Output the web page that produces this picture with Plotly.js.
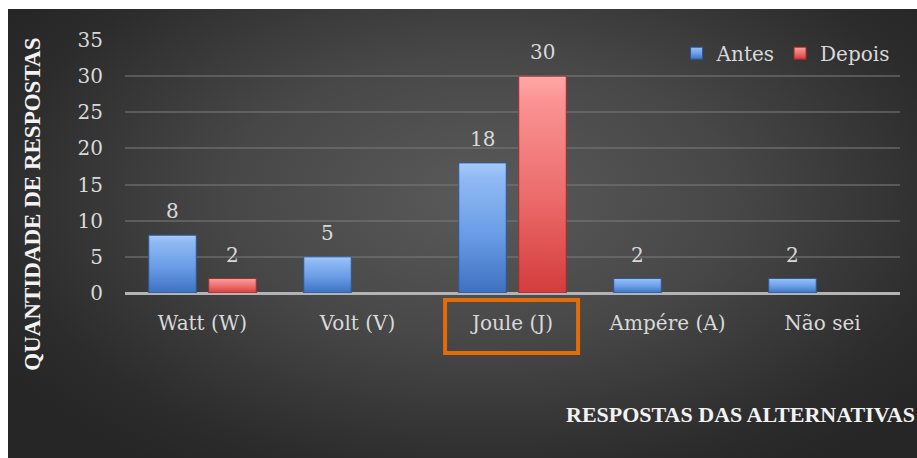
<!DOCTYPE html>
<html>
<head>
<meta charset="utf-8">
<script src="https://cdn.plot.ly/plotly-3.0.1.min.js"></script>
<style>
  html, body { margin:0; padding:0; background:#ffffff; }
  #wrap { position:relative; width:917px; height:458px; overflow:hidden; background:#ffffff; }
  #panel { position:absolute; left:8px; top:9px; width:909px; height:449px;
    background: radial-gradient(ellipse 62% 72% at 52% 42%, #5a5a5a 0%, #474747 45%, #2c2c2c 85%, #262626 100%); }
  #chart { position:absolute; left:0; top:0; width:917px; height:458px; }
</style>
</head>
<body>
<div id="wrap"><div id="panel"></div><div id="chart"></div></div>
<script>
const categories = ["Watt (W)", "Volt (V)", "Joule (J)", "Ampére (A)", "Não sei"];
const antes = [8, 5, 18, 2, 2];
const depois = [2, 0, 30, 0, 0];
const yTicks = [0, 5, 10, 15, 20, 25, 30, 35];
const seriesNames = ["Antes", "Depois"];
const yTitle = "QUANTIDADE DE RESPOSTAS";
const xTitle = "RESPOSTAS DAS ALTERNATIVAS";
const highlighted = "Joule (J)";

const regFont = "DejaVu Serif, serif";
const boldFont = "Liberation Serif, Times New Roman, serif";
const txtCol = "#d9d9d9";

const traces = [
  { type:"bar", name:seriesNames[0], x:categories, y:antes,
    marker:{ color:"#6496de", line:{ color:"#2d5797", width:antes.map(v => v > 0 ? 1 : 0) } }, hoverinfo:"skip" },
  { type:"bar", name:seriesNames[1], x:categories, y:depois,
    marker:{ color:"#e96a6a", line:{ color:"#9c2f2f", width:depois.map(v => v > 0 ? 1 : 0) } }, hoverinfo:"skip" }
];

const annotations = [];
const shiftPx = 30;
antes.forEach((v, i) => { if (v > 0) annotations.push({ x:categories[i], y:v, xref:"x", yref:"y", text:String(v),
  showarrow:false, xshift:-shiftPx, yshift:10, yanchor:"bottom", font:{ family:regFont, size:20, color:txtCol } }); });
depois.forEach((v, i) => { if (v > 0) annotations.push({ x:categories[i], y:v, xref:"x", yref:"y", text:String(v),
  showarrow:false, xshift:shiftPx, yshift:10, yanchor:"bottom", font:{ family:regFont, size:20, color:txtCol } }); });

annotations.push({ text:"<b>"+yTitle+"</b>", xref:"paper", yref:"paper", x:-0.119, y:0.352, textangle:-90,
  showarrow:false, xanchor:"center", yanchor:"middle", font:{ family:boldFont, size:23, color:"#f2f2f2" } });
annotations.push({ text:"<b>"+xTitle+"</b>", xref:"paper", yref:"paper", x:0.566, y:-0.482,
  showarrow:false, xanchor:"left", yanchor:"middle", font:{ family:boldFont, size:22, color:"#f2f2f2" } });

const hi = categories.indexOf(highlighted);

const layout = {
  width:917, height:458,
  margin:{ l:125, r:17, t:40, b:165 },
  paper_bgcolor:"rgba(0,0,0,0)", plot_bgcolor:"rgba(0,0,0,0)",
  barmode:"group", bargap:0.226, bargroupgap:0.208,
  showlegend:true,
  legend:{ orientation:"h", x:0.993, xanchor:"right", y:1.025, yanchor:"top",
    font:{ family:regFont, size:20, color:txtCol }, bgcolor:"rgba(0,0,0,0)", itemwidth:30 },
  xaxis:{ type:"category", range:[-0.5, 4.5], showgrid:false, zeroline:false, showline:false,
    ticks:"", ticklabelstandoff:16, tickfont:{ family:regFont, size:20, color:txtCol }, fixedrange:true },
  yaxis:{ range:[0, 35], tickvals:yTicks, ticktext:yTicks.map(String), showgrid:true,
    gridcolor:"rgba(120,120,120,0.55)", gridwidth:2, zeroline:true, zerolinecolor:"#b4b4b4", zerolinewidth:3,
    showline:false, ticks:"", ticklabelstandoff:21, tickfont:{ family:regFont, size:20, color:txtCol }, fixedrange:true },
  annotations: annotations,
  shapes:[ { type:"rect", xref:"x", yref:"paper", x0:hi-0.435, x1:hi+0.423, y0:-0.028, y1:-0.237,
    line:{ color:"#e36c0a", width:4 }, fillcolor:"rgba(0,0,0,0)" } ]
};

const gradStops = [
  [["0", "#a6cbfa"], ["0.12", "#8fb9f4"], ["0.55", "#6a9de6"], ["1", "#3d70c0"]],
  [["0", "#ffa8a8"], ["0.12", "#fb9292"], ["0.55", "#ec6c6c"], ["1", "#d43c3c"]]
];

Plotly.newPlot("chart", traces, layout, { displayModeBar:false, staticPlot:true }).then(gd => {
  const svg = gd.querySelector("svg.main-svg");
  const ns = "http://www.w3.org/2000/svg";
  let defs = svg.querySelector("defs");
  if (!defs) { defs = document.createElementNS(ns, "defs"); svg.insertBefore(defs, svg.firstChild); }
  gradStops.forEach((stops, k) => {
    const g = document.createElementNS(ns, "linearGradient");
    g.setAttribute("id", "barGrad" + k);
    g.setAttribute("x1", "0"); g.setAttribute("y1", "0"); g.setAttribute("x2", "0"); g.setAttribute("y2", "1");
    stops.forEach(s => { const st = document.createElementNS(ns, "stop");
      st.setAttribute("offset", s[0]); st.setAttribute("stop-color", s[1]); g.appendChild(st); });
    defs.appendChild(g);
  });
  gd.querySelectorAll(".barlayer .trace.bars").forEach((tr, k) => {
    tr.querySelectorAll("path").forEach(p => { p.style.fill = "url(#barGrad" + k + ")"; });
  });
  gd.querySelectorAll(".legend .traces").forEach((tr, k) => {
    tr.querySelectorAll(".legendpoints path").forEach(p => { p.style.fill = "url(#barGrad" + k + ")"; });
  });
});
</script>
</body>
</html>
